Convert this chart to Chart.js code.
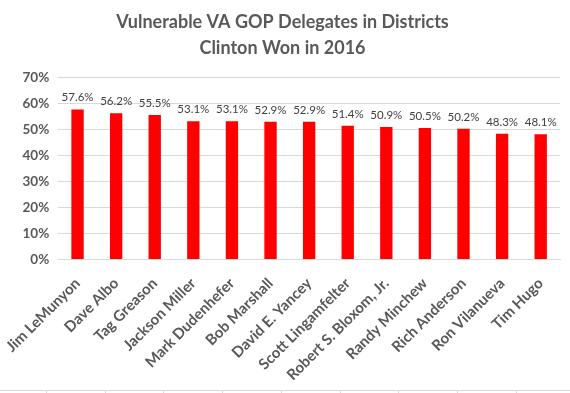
<!DOCTYPE html>
<html><head><meta charset="utf-8">
<script src="https://cdn.jsdelivr.net/npm/chart.js@4"></script>
<style>html,body{margin:0;padding:0;background:#fff}#w{width:570px;height:393px;position:relative}</style>
</head><body><div id="w"><canvas id="c"></canvas></div>
<script>
const categories = ["Jim LeMunyon","Dave Albo","Tag Greason","Jackson Miller","Mark Dudenhefer","Bob Marshall","David E. Yancey","Scott Lingamfelter","Robert S. Bloxom, Jr.","Randy Minchew","Rich Anderson","Ron Vilanueva","Tim Hugo"];
const values = [57.6,56.2,55.5,53.1,53.1,52.9,52.9,51.4,50.9,50.5,50.2,48.3,48.1];
const titleLines = ["Vulnerable VA GOP Delegates in Districts","Clinton Won in 2016"];
const FONT = "Lato, 'Open Sans', sans-serif";

const labelPlugin = {
  id:'vals',
  afterDatasetsDraw(chart){
    const ctx = chart.ctx; const meta = chart.getDatasetMeta(0);
    ctx.save(); ctx.fillStyle='#404040'; ctx.font="11.5px "+FONT; ctx.textAlign='center'; ctx.textBaseline='bottom';
    meta.data.forEach((b,i)=>{ ctx.fillText(values[i].toFixed(1)+'%', b.x, b.y-6); });
    ctx.restore();
  }
};
const sheetPlugin = {
  id:'sheet',
  beforeDraw(chart){
    const ctx=chart.ctx; ctx.save(); ctx.strokeStyle='#d9d9d9'; ctx.lineWidth=1;
    ctx.beginPath(); ctx.moveTo(0,390.5); ctx.lineTo(570,390.5);
    [46,105,163,222,281,340,398,457,516].forEach(x=>{ctx.moveTo(x+0.5,390);ctx.lineTo(x+0.5,393);});
    ctx.stroke(); ctx.restore();
  }
};
new Chart(document.getElementById('c'),{
  type:'bar',
  data:{labels:categories,datasets:[{data:values,backgroundColor:'#ff0000',barPercentage:0.32,categoryPercentage:1}]},
  options:{
    responsive:true,maintainAspectRatio:false,animation:false,
    layout:{padding:{left:5,right:10,top:0,bottom:2}},
    plugins:{
      legend:{display:false},tooltip:{enabled:false},
      title:{display:true,text:titleLines,color:'#595959',font:{family:FONT,size:18,weight:'bold',lineHeight:1.45},padding:{top:9,bottom:16}}
    },
    scales:{
      y:{min:0,max:70,ticks:{stepSize:10,callback:v=>v+'%',color:'#595959',font:{family:FONT,size:13.5,weight:'bold'},padding:9},
         grid:{color:'#d9d9d9',drawTicks:false},border:{display:false}},
      x:{ticks:{color:'#595959',font:{family:FONT,size:15,weight:'bold'},maxRotation:45,minRotation:45,padding:7},
         grid:{display:false},border:{color:'#d9d9d9'}}
    }
  },
  plugins:[labelPlugin,sheetPlugin]
});
</script></body></html>
